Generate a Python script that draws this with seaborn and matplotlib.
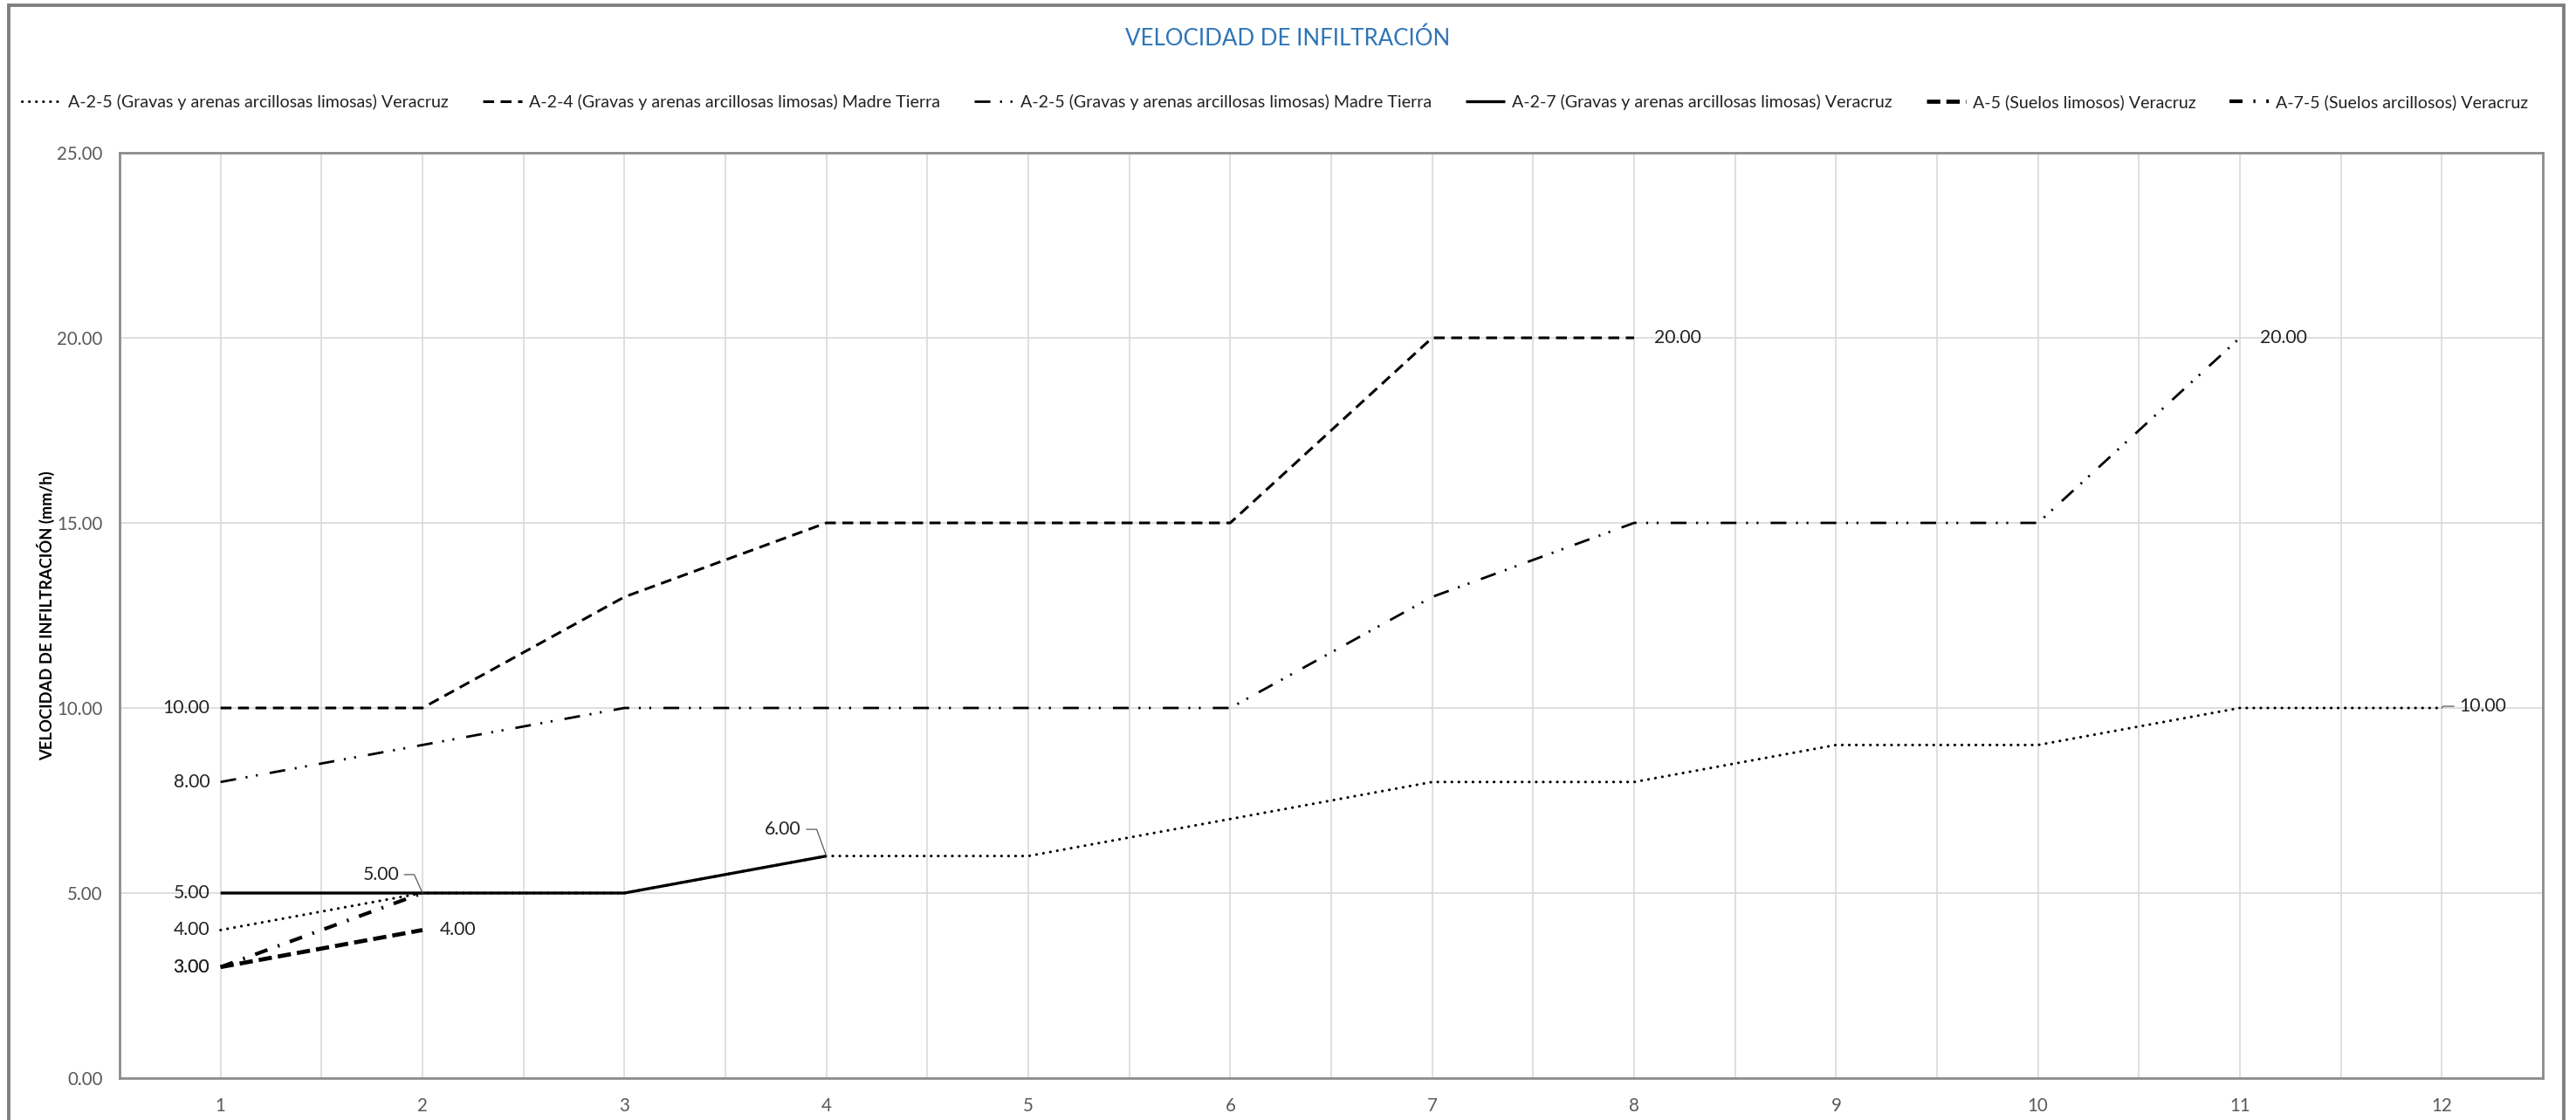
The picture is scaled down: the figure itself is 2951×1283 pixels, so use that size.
import matplotlib
matplotlib.use("Agg")
import matplotlib.pyplot as plt
import seaborn as sns
import pandas as pd
from matplotlib.patches import Rectangle

# ---- data -------------------------------------------------------------
dias = list(range(1, 13))

a25_veracruz = [4, 5, 5, 6, 6, 7, 8, 8, 9, 9, 10, 10]
a24_madre_tierra = [10, 10, 13, 15, 15, 15, 20, 20]
a25_madre_tierra = [8, 9, 10, 10, 10, 10, 13, 15, 15, 15, 20]
a27_veracruz = [5, 5, 5, 6]
a5_veracruz = [3, 4]
a75_veracruz = [3, 5]

nombres = [
    "A-2-5 (Gravas y arenas arcillosas limosas) Veracruz",
    "A-2-4 (Gravas y arenas arcillosas limosas) Madre Tierra",
    "A-2-5 (Gravas y arenas arcillosas limosas) Madre Tierra",
    "A-2-7 (Gravas y arenas arcillosas limosas) Veracruz",
    "A-5 (Suelos limosos) Veracruz",
    "A-7-5 (Suelos arcillosos) Veracruz",
]
valores = [a25_veracruz, a24_madre_tierra, a25_madre_tierra,
           a27_veracruz, a5_veracruz, a75_veracruz]

y_ticks = [0, 5, 10, 15, 20, 25]

# ---- styles -----------------------------------------------------------
estilos = [
    dict(lw=1.1, ls=(0, (0.1, 2.8)), cap="round"),
    dict(lw=1.1, ls=(0, (4.5, 2.7)), cap="butt"),
    dict(lw=1.0, ls=(0, (6.5, 4.0, 0.8, 3.5, 0.8, 5.0)), cap="butt"),
    dict(lw=1.2, ls="-", cap="butt"),
    dict(lw=1.7, ls=(0, (5.5, 2.5)), cap="butt"),
    dict(lw=1.5, ls=(0, (5.4, 4.5, 0.8, 4.5)), cap="butt"),
]

sns.set_theme(style="white")
plt.rcParams["font.family"] = ["Lato", "DejaVu Sans"]
plt.rcParams["lines.scale_dashes"] = False

W, H, DPI = 2951, 1283, 200
fig = plt.figure(figsize=(W / DPI, H / DPI), dpi=DPI)
fig.patch.set_facecolor("white")

ax = fig.add_axes([137 / W, 1 - 1235 / H, (2913 - 137) / W, (1235 - 175) / H])

handles = []
for nombre, vals, est in zip(nombres, valores, estilos):
    df = pd.DataFrame({"dia": dias[:len(vals)], "vel": vals})
    sns.lineplot(data=df, x="dia", y="vel", ax=ax, color="black",
                 linewidth=est["lw"], linestyle=est["ls"],
                 dash_capstyle=est["cap"], solid_capstyle="butt",
                 label=nombre, legend=False)
    handles.append(ax.lines[-1])

# ---- axes -------------------------------------------------------------
ax.set_xlim(0.5, 12.5)
ax.set_ylim(0, 25)
ax.set_xticks(dias)
ax.set_xticks([d + 0.5 for d in dias[:-1]], minor=True)
ax.set_yticks(y_ticks)
ax.set_yticklabels([f"{v:.2f}" for v in y_ticks])
ax.set_xticklabels([str(d) for d in dias])
ax.tick_params(axis="both", which="both", length=0, labelsize=7.4,
               labelcolor="#595959")
ax.tick_params(axis="x", pad=8)
ax.tick_params(axis="y", pad=7)
ax.grid(True, which="both", axis="x", color="#d9d9d9", lw=0.6)
ax.grid(True, which="major", axis="y", color="#d9d9d9", lw=0.6)
ax.set_axisbelow(True)
for s in ax.spines.values():
    s.set_color("#8c8c8c")
    s.set_linewidth(1.0)
ax.set_xlabel("")
ax.set_ylabel("VELOCIDAD DE INFILTRACIÓN (mm/h)", fontsize=6.6,
              fontweight="bold", color="black")
ax.yaxis.set_label_coords(-0.0265, 0.5)

# ---- data labels ------------------------------------------------------
lab_kw = dict(textcoords="offset points", fontsize=7.6, color="#222222",
              va="center")
leader = dict(arrowstyle="-", color="#595959", lw=0.45, shrinkA=0, shrinkB=0)

def etiqueta(serie, idx, dx, dy, ha, angulo=None):
    vals = valores[serie]
    x, y = dias[idx], vals[idx]
    kw = dict(lab_kw)
    if angulo is not None:
        kw["arrowprops"] = dict(leader,
                                connectionstyle=f"angle,angleA=0,angleB={angulo},rad=0")
    ax.annotate(f"{y:.2f}", xy=(x, y), xytext=(dx, dy), ha=ha, **kw)

# first values
for s in range(6):
    etiqueta(s, 0, -4.5, 0, "right")
# last values
etiqueta(0, len(a25_veracruz) - 1, 7.2, 0.7, "left", angulo=51)
etiqueta(1, len(a24_madre_tierra) - 1, 8.3, 0, "left")
etiqueta(2, len(a25_madre_tierra) - 1, 8.3, 0, "left")
etiqueta(3, len(a27_veracruz) - 1, -10.4, 11.0, "right", angulo=110)
etiqueta(4, len(a5_veracruz) - 1, 7.2, 0, "left")
etiqueta(5, len(a75_veracruz) - 1, -9.7, 7.6, "right", angulo=114)

# ---- title & legend ---------------------------------------------------
fig.text(1475 / W, 1 - 44 / H, "VELOCIDAD DE INFILTRACIÓN", ha="center",
         va="center", fontsize=9.3, color="#2E75B6")

leg = fig.legend(handles, nombres, loc="center", ncol=6,
                 bbox_to_anchor=(0.495, 1 - 117 / H), frameon=False,
                 fontsize=7.05, handlelength=2.3, handletextpad=0.4,
                 columnspacing=2.0, borderaxespad=0)
for t in leg.get_texts():
    t.set_color("#222222")

# chart frame
fig.patches.append(Rectangle((10 / W, -0.05), (2937 - 10) / W, 1.05 - 6 / H,
                             transform=fig.transFigure, fill=False,
                             edgecolor="#7f7f7f", lw=1.4))

fig.savefig("out.png", dpi=DPI, facecolor="white")
